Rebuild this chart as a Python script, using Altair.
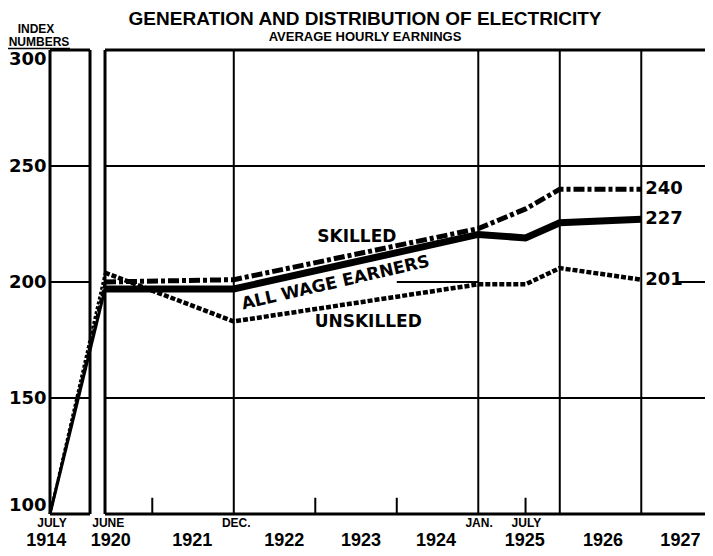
import altair as alt
import pandas as pd

TITLE = "GENERATION AND DISTRIBUTION OF ELECTRICITY"
SUBTITLE = "AVERAGE HOURLY EARNINGS"

# Observation dates on a broken time axis (1914 compressed next to 1920), decimal years
periods = ["July 1914", "June 1920", "Dec. 1921", "Jan. 1925", "July 1925", "Jan. 1926", "Jan. 1927"]
period_pos = [1919.745, 1920.42, 1922.0, 1925.0, 1925.58, 1926.0, 1927.0]

# Index numbers (July 1914 = 100)
skilled = [100, 200, 201, 223, 231.5, 240, 240]
all_wage_earners = [100, 197, 197, 220.5, 219, 225.5, 227]
unskilled = [100, 204, 183, 199, 199, 206, 201]

y_ticks = [100, 150, 200, 250, 300]
month_labels = ["JULY", "JUNE", "DEC.", "JAN.", "JULY"]
month_pos = [1919.77, 1920.46, 1922.03, 1925.01, 1925.59]
year_labels = ["1914", "1920", "1921", "1922", "1923", "1924", "1925", "1926", "1927"]
year_pos = [1919.70, 1920.49, 1921.49, 1922.62, 1923.56, 1924.48, 1925.57, 1926.53, 1927.48]

left_panel = [1919.745, 1920.236]
right_panel = [1920.42, 1927.782]
divisions = [1922.0, 1925.0, 1926.0, 1927.0]
short_ticks = [1921.0, 1923.0, 1924.0, 1925.58]

series_names = ["SKILLED", "ALL WAGE EARNERS", "UNSKILLED"]
series_label_pos = [1923.51, 1923.25, 1923.65]
series_label_val = [219.5, 199.6, 182.6]

FONT = "Liberation Sans"
NUMFONT = "DejaVu Sans"

xs = alt.Scale(domain=[left_panel[0], right_panel[1]], nice=False, zero=False)
ys = alt.Scale(domain=[100, 300], nice=False, zero=False)
yaxis = alt.Axis(values=y_ticks, labelFont=NUMFONT, labelFontWeight="bold",
                 labelFontSize=18, labelColor="black", ticks=False, domain=False,
                 grid=False, labelPadding=4, title=None, labelFlush=True,
                 labelFlushOffset=0)


def X(f):
    return alt.X(f, type="quantitative", scale=xs, axis=None)


def Y(f):
    return alt.Y(f, type="quantitative", scale=ys, axis=yaxis)


# ---- frame / grid rules ----
h_border, h_grid = [], []
for v in y_ticks:
    target = h_border if v in (100, 300) else h_grid
    target.append({"x": left_panel[0], "x2": left_panel[1], "y": v})
    if v == 200:
        # the 200 line is interrupted by the series and their labels
        for a, b in [(short_ticks[2], divisions[1]), (1927.45, right_panel[1])]:
            target.append({"x": a, "x2": b, "y": v})
    else:
        target.append({"x": right_panel[0], "x2": right_panel[1], "y": v})

v_border = pd.DataFrame({"x": left_panel + [right_panel[0]], "y": 100, "y2": 300})
v_div = pd.DataFrame({"x": divisions, "y": 100, "y2": 300})
v_tick = pd.DataFrame({"x": short_ticks, "y": 100, "y2": 107})

layers = []
layers.append(alt.Chart(pd.DataFrame(h_grid)).mark_rule(color="black", strokeWidth=2)
              .encode(x=X("x"), x2="x2", y=Y("y")))
layers.append(alt.Chart(pd.DataFrame(h_border)).mark_rule(color="black", strokeWidth=3)
              .encode(x=X("x"), x2="x2", y=Y("y")))
layers.append(alt.Chart(v_border).mark_rule(color="black", strokeWidth=3)
              .encode(x=X("x"), y=Y("y"), y2="y2"))
layers.append(alt.Chart(v_div).mark_rule(color="black", strokeWidth=2)
              .encode(x=X("x"), y=Y("y"), y2="y2"))
layers.append(alt.Chart(v_tick).mark_rule(color="black", strokeWidth=2)
              .encode(x=X("x"), y=Y("y"), y2="y2"))

# ---- data lines ----
styles = {
    "SKILLED": dict(early=dict(strokeWidth=2.5, strokeDash=[6, 2]),
                    main=dict(strokeWidth=5, strokeDash=[11, 3, 4, 3])),
    "ALL WAGE EARNERS": dict(early=dict(strokeWidth=3),
                             main=dict(strokeWidth=7)),
    "UNSKILLED": dict(early=dict(strokeWidth=2.5, strokeDash=[3, 2]),
                      main=dict(strokeWidth=4.5, strokeDash=[5, 2])),
}
series_vals = {"SKILLED": skilled, "ALL WAGE EARNERS": all_wage_earners, "UNSKILLED": unskilled}

for name, vals in series_vals.items():
    df = pd.DataFrame({"period": periods, "pos": period_pos, "value": vals})
    early = df.iloc[0:2]
    main = df.iloc[1:]
    layers.append(alt.Chart(early).mark_line(color="black", **styles[name]["early"])
                  .encode(x=X("pos"), y=Y("value"), order="pos:Q"))
    layers.append(alt.Chart(main).mark_line(color="black", strokeJoin="miter",
                                            **styles[name]["main"])
                  .encode(x=X("pos"), y=Y("value"), order="pos:Q"))

# ---- end values ----
end_df = pd.DataFrame({"pos": [period_pos[-1]] * 3,
                       "value": [skilled[-1], all_wage_earners[-1], unskilled[-1]]})
end_df["label"] = end_df["value"].map(lambda v: str(int(round(v))))
layers.append(alt.Chart(end_df).mark_text(font=NUMFONT, fontWeight="bold", fontSize=18,
                                          align="left", baseline="middle", dx=4, color="black")
              .encode(x=X("pos"), y=Y("value"), text="label"))

# ---- series labels ----
lab_df = pd.DataFrame({"name": series_names, "pos": series_label_pos, "value": series_label_val})
for i, name in enumerate(series_names):
    angle = 347 if name == "ALL WAGE EARNERS" else 0
    layers.append(alt.Chart(lab_df.iloc[[i]]).mark_text(font=NUMFONT, fontWeight="bold",
                                                        fontSize=17, align="center",
                                                        baseline="middle", angle=angle,
                                                        color="black")
                  .encode(x=X("pos"), y=Y("value"), text="name"))

# ---- x axis labels ----
m_df = pd.DataFrame({"label": month_labels, "pos": month_pos})
layers.append(alt.Chart(m_df).mark_text(font=FONT, fontWeight="bold", fontSize=12,
                                        align="center", baseline="alphabetic", color="black")
              .encode(x=X("pos"), y=alt.value(477), text="label"))
yr_df = pd.DataFrame({"label": year_labels, "pos": year_pos})
layers.append(alt.Chart(yr_df).mark_text(font=FONT, fontWeight="bold", fontSize=18,
                                         align="center", baseline="alphabetic", color="black")
              .encode(x=X("pos"), y=alt.value(496), text="label"))

# ---- titles ----
t_df = pd.DataFrame({"t": [TITLE]})
layers.append(alt.Chart(t_df).mark_text(font=FONT, fontWeight="bold", fontSize=19,
                                        align="center", baseline="alphabetic", color="black")
              .encode(x=alt.value(315), y=alt.value(-25.5), text="t"))
s_df = pd.DataFrame({"t": [SUBTITLE]})
layers.append(alt.Chart(s_df).mark_text(font=FONT, fontWeight="bold", fontSize=13,
                                        align="center", baseline="alphabetic", color="black")
              .encode(x=alt.value(315), y=alt.value(-9.5), text="t"))
i_df = pd.DataFrame({"t": ["INDEX", "NUMBERS"]})
layers.append(alt.Chart(i_df.iloc[[0]]).mark_text(font=FONT, fontWeight="bold", fontSize=12,
                                                  align="center", baseline="alphabetic",
                                                  color="black")
              .encode(x=alt.value(-14), y=alt.value(-17), text="t"))
layers.append(alt.Chart(i_df.iloc[[1]]).mark_text(font=FONT, fontWeight="bold", fontSize=12,
                                                  align="center", baseline="alphabetic",
                                                  color="black")
              .encode(x=alt.value(-11), y=alt.value(-4), text="t"))
layers.append(alt.Chart(t_df).mark_rule(color="black", strokeWidth=1.5)
              .encode(x=alt.value(-44), x2=alt.value(20), y=alt.value(-1.5)))

chart = (alt.layer(*layers)
         .properties(width=655, height=464,
                     autosize=alt.AutoSizeParams(type="none"),
                     padding={"left": 42, "top": 42, "right": 0, "bottom": 40},
                     background="white")
         .configure_view(strokeWidth=0))

chart.save("out.html", embed_options={"renderer": "svg", "actions": False})
